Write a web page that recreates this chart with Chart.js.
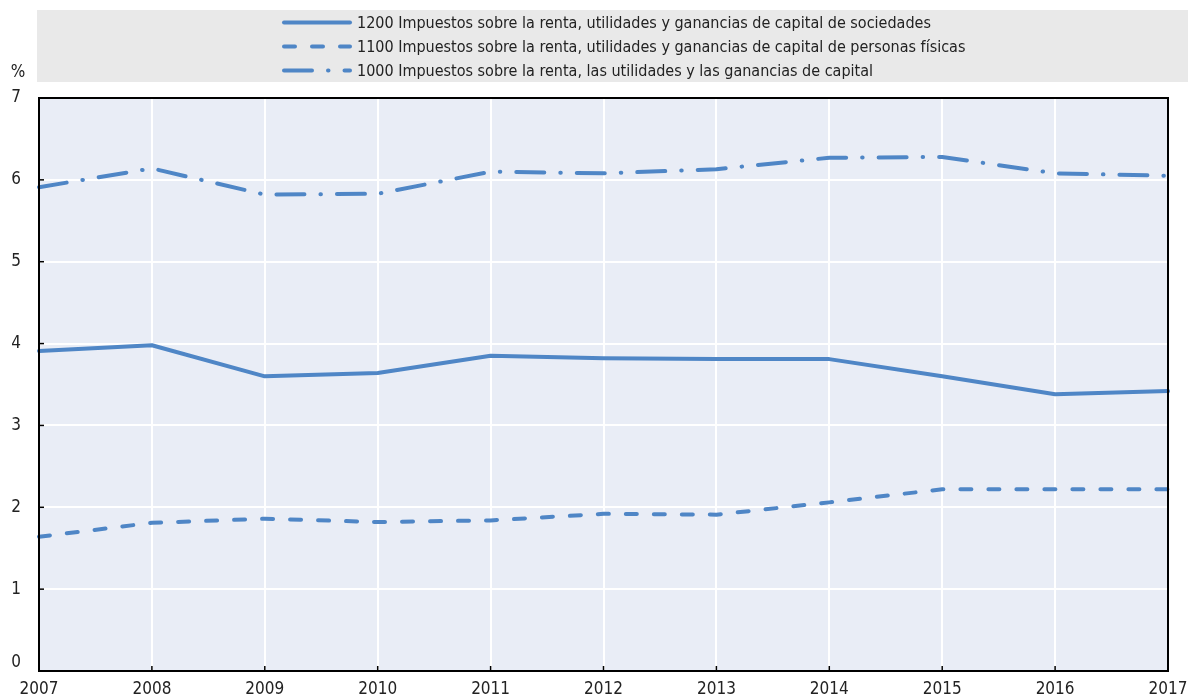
<!DOCTYPE html>
<html>
<head>
<meta charset="utf-8">
<script src="https://cdn.jsdelivr.net/npm/chart.js@4/dist/chart.umd.min.js"></script>
<style>
  html, body { margin: 0; padding: 0; background: #fff; }
  #wrap { width: 1188px; height: 695px; position: relative; }
</style>
</head>
<body>
<div id="wrap"><canvas id="c" width="1188" height="695"></canvas></div>
<script>
const years = ['2007','2008','2009','2010','2011','2012','2013','2014','2015','2016','2017'];
const labels = [
  '1200 Impuestos sobre la renta, utilidades y ganancias de capital de sociedades',
  '1100 Impuestos sobre la renta, utilidades y ganancias de capital de personas físicas',
  '1000 Impuestos sobre la renta, las utilidades y las ganancias de capital'
];
const corporate = [3.91, 3.98, 3.60, 3.64, 3.85, 3.82, 3.81, 3.81, 3.60, 3.38, 3.42];
const personal  = [1.64, 1.81, 1.86, 1.82, 1.84, 1.92, 1.91, 2.06, 2.22, 2.22, 2.22];
const total     = [5.91, 6.14, 5.82, 5.83, 6.10, 6.08, 6.13, 6.27, 6.28, 6.08, 6.05];
const yTicks = [0, 1, 2, 3, 4, 5, 6, 7];

const FONT = "'Liberation Sans Narrow', 'DejaVu Sans Condensed', 'Liberation Sans', Arial, sans-serif";
const BLUE = '#4f86c6';

const frame = {
  id: 'frame',
  beforeDraw(chart) {
    const {ctx, chartArea: a} = chart;
    ctx.save();
    ctx.fillStyle = '#e9e9e9';
    ctx.fillRect(37, 10, 1151, 72);
    ctx.fillStyle = '#e9edf6';
    ctx.fillRect(a.left, a.top, a.right - a.left, a.bottom - a.top);
    ctx.restore();
  },
  afterDraw(chart) {
    const {ctx, chartArea: a, scales} = chart;
    ctx.save();
    ctx.strokeStyle = '#000';
    ctx.lineWidth = 2;
    ctx.strokeRect(a.left, a.top, a.right - a.left, a.bottom - a.top);
    ctx.lineWidth = 1.5;
    yTicks.forEach(v => {
      const y = scales.y.getPixelForValue(v);
      ctx.beginPath(); ctx.moveTo(a.left, y); ctx.lineTo(a.left + 5, y); ctx.stroke();
    });
    years.forEach((yr, i) => {
      const x = scales.x.getPixelForValue(i);
      ctx.beginPath(); ctx.moveTo(x, a.bottom); ctx.lineTo(x, a.bottom - 5); ctx.stroke();
    });
    ctx.fillStyle = '#222';
    ctx.font = '17px ' + FONT;
    ctx.textAlign = 'center';
    ctx.textBaseline = 'middle';
    ctx.fillText('%', 18, 73);
    // zero label sits a little higher, clear of the year labels
    ctx.textAlign = 'right';
    ctx.fillText(String(yTicks[0]), 21, scales.y.getPixelForValue(yTicks[0]) - 8);
    ctx.font = '16px ' + FONT;
    const rows = [22.5, 46.5, 70.5];
    chart.data.datasets.forEach((ds, i) => {
      const y = rows[i];
      ctx.strokeStyle = ds.borderColor;
      ctx.lineWidth = 4;
      ctx.lineCap = 'round';
      ctx.setLineDash(ds.borderDash || []);
      ctx.beginPath(); ctx.moveTo(284, y); ctx.lineTo(350, y); ctx.stroke();
      ctx.setLineDash([]);
      ctx.fillStyle = '#222';
      ctx.textAlign = 'left';
      ctx.fillText(ds.label, 357, y + 1);
    });
    ctx.restore();
  }
};

new Chart(document.getElementById('c'), {
  type: 'line',
  data: {
    labels: years,
    datasets: [
      { label: labels[0], data: corporate, borderColor: BLUE, borderWidth: 4, pointRadius: 0, tension: 0, borderDash: [], borderCapStyle: 'round', borderJoinStyle: 'round' },
      { label: labels[1], data: personal, borderColor: BLUE, borderWidth: 4, pointRadius: 0, tension: 0, borderDash: [11, 17], borderCapStyle: 'round', borderJoinStyle: 'round' },
      { label: labels[2], data: total, borderColor: BLUE, borderWidth: 4, pointRadius: 0, tension: 0, borderDash: [28, 16, 0.5, 16], borderCapStyle: 'round', borderJoinStyle: 'round' }
    ]
  },
  options: {
    responsive: false,
    animation: false,
    layout: { padding: { top: 98, right: 20, left: 0, bottom: 0 } },
    plugins: { legend: { display: false }, title: { display: false }, tooltip: { enabled: false } },
    scales: {
      x: {
        offset: false,
        grid: { color: '#ffffff', lineWidth: 2, drawTicks: false },
        border: { display: false },
        ticks: { color: '#222', font: { family: FONT, size: 17 }, padding: 8, maxRotation: 0, autoSkip: false },
        afterFit(s) { s.height = 24; s.paddingLeft = 0; s.paddingRight = 0; }
      },
      y: {
        min: 0, max: 7,
        afterBuildTicks(s) { s.ticks = yTicks.map(v => ({ value: v })); },
        grid: { color: '#ffffff', lineWidth: 2, drawTicks: false },
        border: { display: false },
        ticks: { color: '#222', font: { family: FONT, size: 17 }, padding: 18, callback: (v) => v === 0 ? '' : String(v) },
        afterFit(s) { s.width = 39; s.paddingTop = 0; s.paddingBottom = 0; }
      }
    }
  },
  plugins: [frame]
});
</script>
</body>
</html>
